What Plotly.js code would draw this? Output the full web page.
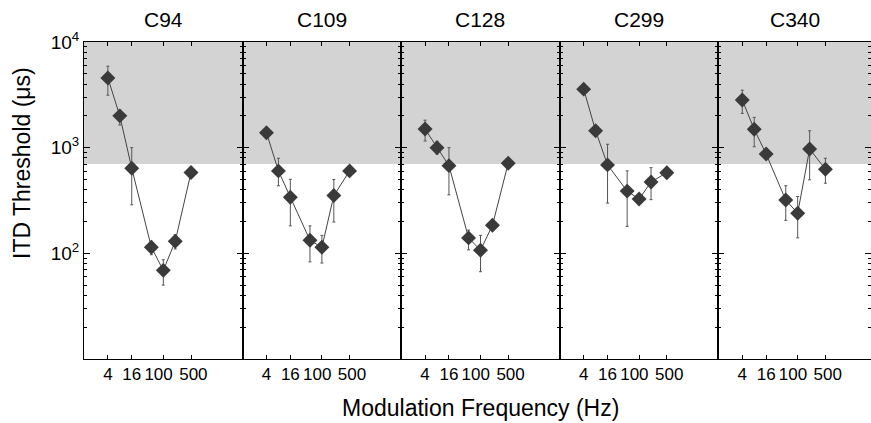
<!DOCTYPE html>
<html>
<head>
<meta charset="utf-8">
<script src="https://cdn.plot.ly/plotly-3.0.1.min.js"></script>
<style>html,body{margin:0;padding:0;background:#fff;}</style>
</head>
<body>
<div id="chart" style="width:871px;height:423px;"></div>
<script>
// Data
const panels = ["C94", "C109", "C128", "C299", "C340"];
const freqs = [4, 8, 16, 50, 100, 200, 500];

const c94 = [4570, 2000, 640, 114, 69, 130, 581];
const c94Hi = [5900, 2270, 1000, 130, 87, 150, 620];
const c94Lo = [3140, 1640, 288, 97, 50, 110, 540];

const c109 = [1386, 603, 340, 133, 114, 352, 603];
const c109Hi = [1500, 794, 502, 182, 148, 500, 650];
const c109Lo = [1280, 436, 182, 83, 81, 198, 560];

const c128 = [1500, 1000, 676, 140, 107, 184, 713];
const c128Hi = [1820, 1150, 1000, 166, 148, 200, 760];
const c128Lo = [1156, 870, 358, 108, 67, 168, 670];

const c299 = [3580, 1445, 687, 388, 326, 474, 580];
const c299Hi = [3900, 1600, 1077, 603, 350, 647, 620];
const c299Lo = [3300, 1300, 299, 180, 300, 322, 540];

const c340 = [2820, 1493, 871, 319, 240, 972, 625];
const c340Hi = [3500, 1935, 950, 436, 345, 1445, 794];
const c340Lo = [2110, 1020, 800, 205, 140, 496, 461];

const threshold = 700;
const xTickVals = [4, 16, 100, 500];
const xTickText = ["4", "16", "100\u00a0\u00a0", "\u00a0500"];
const yTickVals = [100, 1000, 10000];
const yTickText = ["10<sup>2</sup>", "10<sup>3</sup>", "10<sup>4</sup>"];

const series = [
  [c94, c94Hi, c94Lo],
  [c109, c109Hi, c109Lo],
  [c128, c128Hi, c128Lo],
  [c299, c299Hi, c299Lo],
  [c340, c340Hi, c340Lo]
];

const FONT = "Liberation Sans, Arial, Helvetica, sans-serif";
const minorVals = [];
[10, 100, 1000].forEach(d => { for (let k = 2; k <= 9; k++) minorVals.push(k * d); });

// layout geometry
const plotLeft = 84, plotRight = 871;
const panelPx = 158.6;
const totalPx = plotRight - plotLeft;
const frac = panelPx / totalPx;

const traces = [];
const layout = {
  width: 871, height: 423,
  margin: {l: plotLeft, r: 0, t: 42, b: 64, pad: 0},
  paper_bgcolor: "#fff", plot_bgcolor: "#fff",
  showlegend: false,
  font: {family: FONT, color: "#000"},
  shapes: [], annotations: []
};

series.forEach((s, i) => {
  const n = i + 1;
  const xa = "x" + (n === 1 ? "" : n);
  const ya = "y" + (n === 1 ? "" : n);
  const [vals, hi, lo] = s;
  traces.push({
    type: "scatter", mode: "lines+markers",
    x: freqs, y: vals, xaxis: xa, yaxis: ya,
    line: {color: "#444", width: 1},
    marker: {symbol: "diamond", size: 11.5, color: "#3a3a3a"},
    error_y: {
      type: "data", symmetric: false,
      array: vals.map((v, k) => hi[k] - v),
      arrayminus: vals.map((v, k) => v - lo[k]),
      color: "#555", thickness: 1, width: 1.5
    },
    cliponaxis: false
  });
  const d0 = i * frac;
  const d1 = (n === 5) ? 1 : (i + 1) * frac;
  const rangeMax = 4 * (d1 - d0) / frac;
  layout["xaxis" + (n === 1 ? "" : n)] = {
    type: "log", range: [0, rangeMax], domain: [d0, d1], anchor: ya,
    tickvals: xTickVals, ticktext: xTickText, tickangle: 0,
    ticks: "inside", ticklen: 4, tickcolor: "#000", tickwidth: 1,
    showline: true, linecolor: "#000", linewidth: 1, mirror: "allticks",
    showgrid: false, zeroline: false,
    tickfont: {family: FONT, size: 17, color: "#000"}
  };
  layout["yaxis" + (n === 1 ? "" : n)] = {
    type: "log", range: [1, 4], domain: [0, 1], anchor: xa,
    tickvals: yTickVals, ticktext: yTickText,
    ticks: "inside", ticklen: 6, tickcolor: "#000", tickwidth: 1,
    minor: {tickvals: minorVals, ticks: "inside", ticklen: 3, tickcolor: "#000", tickwidth: 1, showgrid: false},
    showline: true, linecolor: "#000", linewidth: 1, mirror: "allticks",
    showgrid: false, zeroline: false,
    showticklabels: n === 1,
    tickfont: {family: FONT, size: 19, color: "#000"}
  };
  layout.shapes.push({
    type: "rect", xref: xa + " domain", yref: ya,
    x0: 0, x1: 1, y0: threshold, y1: 10000,
    fillcolor: "#d3d3d3", line: {width: 0}, layer: "below"
  });
  layout.annotations.push({
    text: panels[i], xref: xa + " domain", yref: "paper",
    x: 0.5, y: 1 + (42 - 19) / 317, xanchor: "center", yanchor: "middle",
    showarrow: false, font: {family: FONT, size: 21, color: "#000"}
  });
});

layout.annotations.push({
  text: "ITD Threshold (μs)", xref: "paper", yref: "paper",
  x: (22 - plotLeft) / totalPx, y: (359 - 163) / 317,
  xanchor: "center", yanchor: "middle", textangle: -90,
  showarrow: false, font: {family: FONT, size: 23, color: "#000"}
});
layout.annotations.push({
  text: "Modulation Frequency (Hz)", xref: "paper", yref: "paper",
  x: (480 - plotLeft) / totalPx, y: (359 - 408) / 317,
  xanchor: "center", yanchor: "middle",
  showarrow: false, font: {family: FONT, size: 23, color: "#000"}
});

Plotly.newPlot("chart", traces, layout, {displayModeBar: false, staticPlot: true});
</script>
</body>
</html>
